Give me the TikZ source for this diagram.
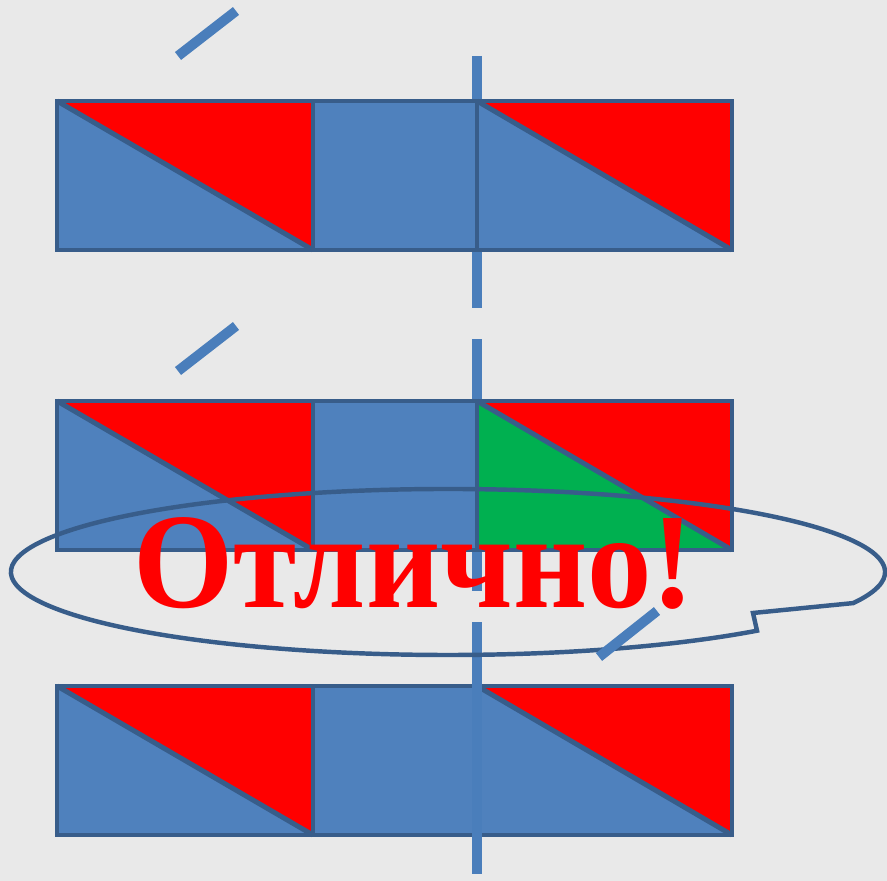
\documentclass[tikz,border=0pt]{standalone}
\usepackage{fontspec}
\setmainfont{Liberation Serif}
\usepackage{xcolor}

\definecolor{fillblue}{RGB}{79,129,189}
\definecolor{edgeblue}{RGB}{56,93,138}
\definecolor{lineblue}{RGB}{74,126,187}
\definecolor{okgreen}{RGB}{0,176,80}
\definecolor{bggray}{RGB}{233,233,233}

\begin{document}
\begin{tikzpicture}[x=0.03cm, y=-0.03cm,
    edge/.style={edgeblue, line width=4.2pt},
    slashline/.style={lineblue, line width=8.5pt},
    bubble/.style={edgeblue, line width=3.8pt, line join=miter}]
  % Bakgrunn
  \fill[bggray] (0,0) rectangle (887,881);
  \useasboundingbox (0,0) rectangle (887,881);
  % Rad 3 (under aksen)
  \fill[fillblue] (57,686) rectangle (732,835);
  \fill[red] (57,686) -- (313,686) -- (313,835) -- cycle;
  \fill[red] (477,686) -- (732,686) -- (732,835) -- cycle;
  \draw[edge] (57,686) rectangle (732,835);
  \draw[edge] (313,686) -- (313,835) (477,686) -- (477,835);
  \draw[edge] (57,686) -- (313,835) (477,686) -- (732,835);
  % Symmetriakse
  \draw[lineblue, line width=8.5pt, dash pattern=on 215.2pt off 26.4pt] (477,56) -- (477,881);
  % Rad 1
  \fill[fillblue] (57,101) rectangle (732,250);
  \fill[red] (57,101) -- (313,101) -- (313,250) -- cycle;
  \fill[red] (477,101) -- (732,101) -- (732,250) -- cycle;
  \draw[edge] (57,101) rectangle (732,250);
  \draw[edge] (313,101) -- (313,250) (477,101) -- (477,250);
  \draw[edge] (57,101) -- (313,250) (477,101) -- (732,250);
  % Rad 2: groenn trekant
  \fill[fillblue] (57,401) rectangle (732,550);
  \fill[red] (57,401) -- (313,401) -- (313,550) -- cycle;
  \fill[red] (477,401) -- (732,401) -- (732,550) -- cycle;
  \fill[okgreen] (477,401) -- (732,550) -- (477,550) -- cycle;
  \draw[edge] (57,401) rectangle (732,550);
  \draw[edge] (313,401) -- (313,550) (477,401) -- (477,550);
  \draw[edge] (57,401) -- (313,550) (477,401) -- (732,550);
  % Snakkeboble
  \draw[bubble] (448,572) ++(22:437 and 83)
    arc[start angle=22, end angle=-315, x radius=437, y radius=83]
    -- (753,613) -- cycle;
  % Streker
  \draw[slashline] (178,56) -- (236,11);
  \draw[slashline] (178,371) -- (236,326);
  \draw[slashline] (599,657) -- (657,611);
  % Tekst
  \node[font=\bfseries\fontsize{116}{116}\selectfont, text=red, anchor=base,
    inner sep=0pt, xscale=0.948] (txt) at (414,607) {Отлично!};
\end{tikzpicture}
\end{document}
